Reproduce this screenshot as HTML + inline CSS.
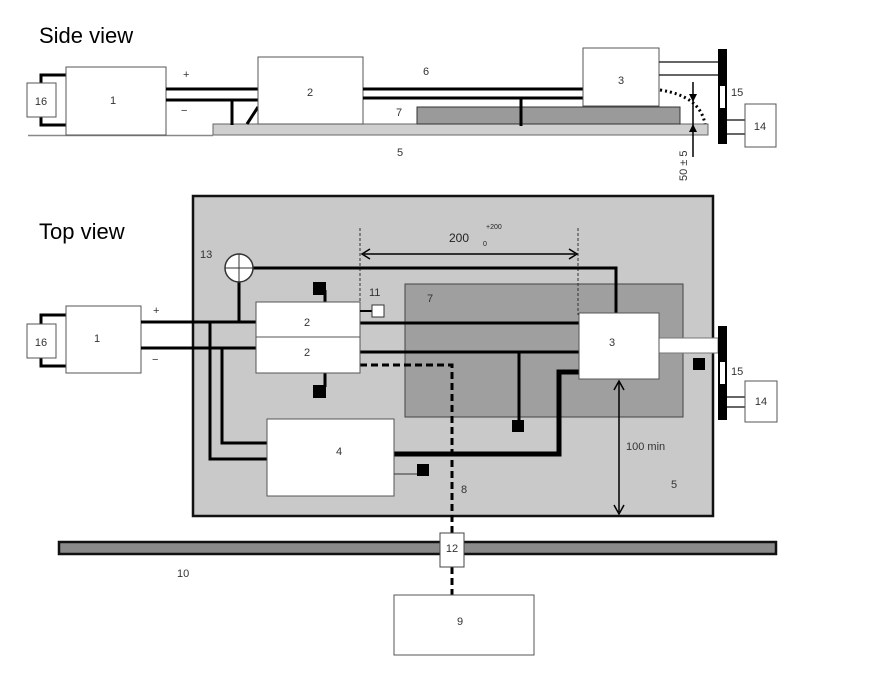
<!DOCTYPE html>
<html><head><meta charset="utf-8"><style>html,body{margin:0;padding:0;background:#fff}svg{display:block}</style></head>
<body>
<svg width="882" height="673" viewBox="0 0 882 673" xmlns="http://www.w3.org/2000/svg" font-family="Liberation Sans, sans-serif">
<rect width="882" height="673" fill="#fff"/>
<text x="39" y="43" font-size="22" fill="#000">Side view</text>
<text x="39" y="239" font-size="22" fill="#000">Top view</text>

<!-- SIDE VIEW -->
<line x1="28" y1="135.5" x2="213" y2="135.5" stroke="#888" stroke-width="1.5"/>
<rect x="213" y="124" width="495" height="11" fill="#cfcfcf" stroke="#666" stroke-width="1"/>
<rect x="417" y="107" width="263" height="17" fill="#9a9a9a" stroke="#333" stroke-width="1"/>
<polyline points="66,75 41,75 41,83" fill="none" stroke="#000" stroke-width="3"/>
<polyline points="41,117 41,125 66,125" fill="none" stroke="#000" stroke-width="3"/>
<rect x="27" y="83" width="29" height="34" fill="#fff" stroke="#555"/>
<text x="41" y="105" font-size="11" text-anchor="middle" fill="#333">16</text>
<rect x="66" y="67" width="100" height="68" fill="#fff" stroke="#555"/>
<text x="113" y="104" font-size="11" text-anchor="middle" fill="#333">1</text>
<line x1="166" y1="89" x2="258" y2="89" stroke="#000" stroke-width="3"/>
<line x1="166" y1="100" x2="258" y2="100" stroke="#000" stroke-width="3"/>
<line x1="232" y1="100" x2="232" y2="125" stroke="#000" stroke-width="3"/>
<line x1="247" y1="124" x2="258" y2="107" stroke="#000" stroke-width="3"/>
<text x="183" y="78" font-size="11" fill="#333">+</text>
<text x="181" y="114" font-size="11" fill="#333">−</text>
<rect x="258" y="57" width="105" height="67" fill="#fff" stroke="#555"/>
<text x="310" y="96" font-size="11" text-anchor="middle" fill="#333">2</text>
<line x1="363" y1="89" x2="583" y2="89" stroke="#000" stroke-width="3"/>
<line x1="363" y1="98" x2="585" y2="98" stroke="#000" stroke-width="3"/>
<line x1="521" y1="98" x2="521" y2="126" stroke="#000" stroke-width="3"/>
<text x="423" y="75" font-size="11" fill="#333">6</text>
<text x="396" y="116" font-size="11" fill="#333">7</text>
<text x="397" y="156" font-size="11" fill="#333">5</text>
<rect x="583" y="48" width="76" height="58" fill="#fff" stroke="#555"/>
<text x="621" y="84" font-size="11" text-anchor="middle" fill="#333">3</text>
<line x1="659" y1="62" x2="718" y2="62" stroke="#333" stroke-width="1.5"/>
<line x1="659" y1="75" x2="718" y2="75" stroke="#333" stroke-width="1.5"/>
<path d="M660,90 Q700,96 705,124" fill="none" stroke="#000" stroke-width="3" stroke-dasharray="2,3"/>
<line x1="693" y1="82" x2="693" y2="157" stroke="#000" stroke-width="1.5"/>
<polygon points="689,94 697,94 693,102" fill="#000"/>
<polygon points="689,132 697,132 693,124" fill="#000"/>
<text transform="translate(687,181) rotate(-90)" font-size="11" fill="#333">50 ± 5</text>
<rect x="718" y="49" width="9" height="95" fill="#000"/>
<rect x="720" y="86" width="5" height="22" fill="#fff"/>
<text x="731" y="96" font-size="11" fill="#333">15</text>
<line x1="727" y1="120" x2="745" y2="120" stroke="#333" stroke-width="1.5"/>
<line x1="727" y1="134" x2="745" y2="134" stroke="#333" stroke-width="1.5"/>
<rect x="745" y="104" width="31" height="43" fill="#fff" stroke="#555"/>
<text x="760" y="130" font-size="11" text-anchor="middle" fill="#333">14</text>

<!-- TOP VIEW -->
<rect x="193" y="196" width="520" height="320" fill="#c9c9c9" stroke="#111" stroke-width="2.5"/>
<rect x="405" y="284" width="278" height="133" fill="#9f9f9f" stroke="#444" stroke-width="1"/>
<line x1="360" y1="228" x2="360" y2="320" stroke="#333" stroke-width="1" stroke-dasharray="3,2"/>
<line x1="578" y1="228" x2="578" y2="315" stroke="#333" stroke-width="1" stroke-dasharray="3,2"/>
<line x1="364" y1="254" x2="575" y2="254" stroke="#000" stroke-width="1.5"/>
<polyline points="370,249 362,254 370,259" fill="none" stroke="#000" stroke-width="1.5"/>
<polyline points="569,249 577,254 569,259" fill="none" stroke="#000" stroke-width="1.5"/>
<text x="449" y="242" font-size="12" fill="#222">200</text>
<text x="486" y="229" font-size="7" fill="#222">+200</text>
<text x="483" y="246" font-size="7" fill="#222">0</text>
<text x="200" y="258" font-size="11" fill="#333">13</text>
<text x="427" y="302" font-size="11" fill="#333">7</text>
<text x="369" y="296" font-size="11" fill="#333">11</text>

<!-- left wiring -->
<polyline points="66,315 41,315 41,324" fill="none" stroke="#000" stroke-width="3"/>
<polyline points="41,358 41,366 66,366" fill="none" stroke="#000" stroke-width="3"/>
<rect x="27" y="324" width="29" height="34" fill="#fff" stroke="#555"/>
<text x="41" y="346" font-size="11" text-anchor="middle" fill="#333">16</text>
<rect x="66" y="306" width="75" height="67" fill="#fff" stroke="#555"/>
<text x="97" y="342" font-size="11" text-anchor="middle" fill="#333">1</text>
<text x="153" y="314" font-size="11" fill="#333">+</text>
<text x="152" y="363" font-size="11" fill="#333">−</text>
<line x1="141" y1="322" x2="257" y2="322" stroke="#000" stroke-width="3"/>
<line x1="141" y1="348" x2="257" y2="348" stroke="#000" stroke-width="3"/>
<polyline points="210,322 210,459 267,459" fill="none" stroke="#000" stroke-width="3"/>
<polyline points="222,348 222,443 267,443" fill="none" stroke="#000" stroke-width="3"/>
<line x1="239" y1="282" x2="239" y2="322" stroke="#000" stroke-width="3"/>
<polyline points="253,268 616,268 616,314" fill="none" stroke="#000" stroke-width="3"/>
<circle cx="239" cy="268" r="14" fill="#fff" stroke="#333" stroke-width="1.5"/>
<line x1="225" y1="268" x2="253" y2="268" stroke="#333" stroke-width="1"/>
<line x1="239" y1="254" x2="239" y2="282" stroke="#333" stroke-width="1"/>

<!-- wires 2 -> 3 -->
<line x1="360" y1="323" x2="579" y2="323" stroke="#000" stroke-width="3"/>
<line x1="360" y1="352" x2="579" y2="352" stroke="#000" stroke-width="3"/>
<line x1="519" y1="352" x2="519" y2="424" stroke="#000" stroke-width="3"/>
<rect x="512" y="420" width="12" height="12" fill="#000"/>
<polyline points="394,454 559,454 559,372 579,372" fill="none" stroke="#000" stroke-width="5"/>
<polyline points="360,365 452,365 452,533" fill="none" stroke="#000" stroke-width="3" stroke-dasharray="7,4"/>
<line x1="452" y1="567" x2="452" y2="595" stroke="#000" stroke-width="3" stroke-dasharray="7,4"/>

<!-- box 2 -->
<line x1="325" y1="290" x2="325" y2="302" stroke="#000" stroke-width="3"/>
<rect x="313" y="282" width="13" height="13" fill="#000"/>
<line x1="325" y1="373" x2="325" y2="387" stroke="#000" stroke-width="3"/>
<rect x="313" y="385" width="13" height="13" fill="#000"/>
<rect x="256" y="302" width="104" height="71" fill="#fff" stroke="#555"/>
<line x1="256" y1="337" x2="360" y2="337" stroke="#555"/>
<text x="307" y="326" font-size="11" text-anchor="middle" fill="#333">2</text>
<text x="307" y="356" font-size="11" text-anchor="middle" fill="#333">2</text>
<line x1="360" y1="311" x2="372" y2="311" stroke="#000" stroke-width="2"/>
<rect x="372" y="305" width="12" height="12" fill="#fff" stroke="#333"/>

<!-- box 4 -->
<rect x="267" y="419" width="127" height="77" fill="#fff" stroke="#555"/>
<text x="339" y="455" font-size="11" text-anchor="middle" fill="#333">4</text>
<line x1="394" y1="474" x2="417" y2="474" stroke="#333" stroke-width="1"/>
<rect x="417" y="464" width="12" height="12" fill="#000"/>
<text x="461" y="493" font-size="11" fill="#333">8</text>

<!-- box 3 -->
<rect x="659" y="338" width="59" height="15" fill="#fff" stroke="#777" stroke-width="1"/>
<rect x="693" y="358" width="12" height="12" fill="#000"/>
<rect x="579" y="313" width="80" height="66" fill="#fff" stroke="#555"/>
<text x="612" y="346" font-size="11" text-anchor="middle" fill="#333">3</text>
<line x1="619" y1="383" x2="619" y2="512" stroke="#000" stroke-width="1.5"/>
<polyline points="614,390 619,381 624,390" fill="none" stroke="#000" stroke-width="1.5"/>
<polyline points="614,505 619,514 624,505" fill="none" stroke="#000" stroke-width="1.5"/>
<text x="626" y="450" font-size="11" fill="#333">100 min</text>
<text x="671" y="488" font-size="11" fill="#333">5</text>

<rect x="718" y="326" width="9" height="94" fill="#000"/>
<rect x="720" y="362" width="5" height="22" fill="#fff"/>
<text x="731" y="375" font-size="11" fill="#333">15</text>
<line x1="727" y1="397" x2="745" y2="397" stroke="#333" stroke-width="1.5"/>
<line x1="727" y1="407" x2="745" y2="407" stroke="#333" stroke-width="1.5"/>
<rect x="745" y="381" width="32" height="41" fill="#fff" stroke="#555"/>
<text x="761" y="405" font-size="11" text-anchor="middle" fill="#333">14</text>

<!-- bus -->
<rect x="59" y="542" width="717" height="12" fill="#8a8a8a" stroke="#111" stroke-width="2.5"/>
<rect x="440" y="533" width="24" height="34" fill="#fff" stroke="#444"/>
<text x="452" y="552" font-size="11" text-anchor="middle" fill="#333">12</text>
<text x="177" y="577" font-size="11" fill="#333">10</text>
<rect x="394" y="595" width="140" height="60" fill="#fff" stroke="#555"/>
<text x="460" y="625" font-size="11" text-anchor="middle" fill="#333">9</text>
</svg>
</body></html>
